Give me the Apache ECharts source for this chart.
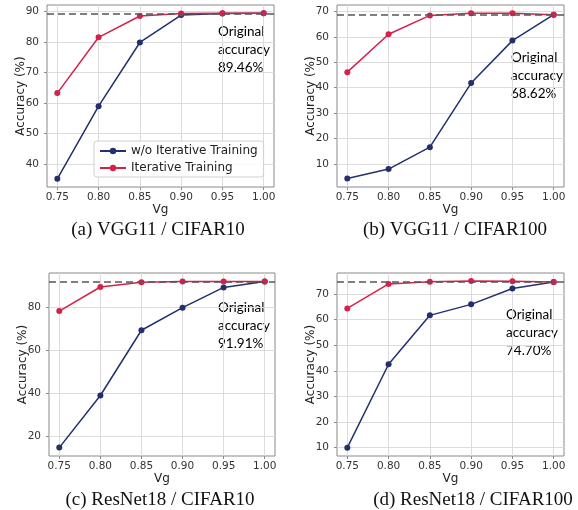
<!DOCTYPE html>
<html>
<head>
<meta charset="utf-8">
<script src="https://cdn.jsdelivr.net/npm/echarts@6/dist/echarts.min.js"></script>
<style>
  html, body { margin: 0; padding: 0; background: #fff; }
  #chart { width: 578px; height: 510px; }
</style>
</head>
<body>
<div id="chart"></div>
<script>
const vg = [0.75, 0.80, 0.85, 0.90, 0.95, 1.00];

// accuracy without / with iterative training, per panel
const vggC10NoIter = [35.2, 59.0, 79.9, 88.9, 89.4, 89.46];
const vggC10Iter = [63.3, 81.6, 88.6, 89.4, 89.5, 89.5];
const vggC100NoIter = [4.3, 8.0, 16.6, 41.8, 58.5, 68.7];
const vggC100Iter = [46.1, 61.0, 68.4, 69.3, 69.3, 68.7];
const resC10NoIter = [14.8, 39.0, 69.3, 79.8, 89.2, 91.9];
const resC10Iter = [78.2, 89.4, 91.6, 91.9, 92.0, 92.0];
const resC100NoIter = [10.0, 42.6, 61.7, 66.0, 72.2, 74.7];
const resC100Iter = [64.4, 74.0, 74.8, 75.1, 75.0, 74.7];

const originalAcc = [89.46, 68.62, 91.91, 74.70];
const captions = ['(a) VGG11 / CIFAR10', '(b) VGG11 / CIFAR100', '(c) ResNet18 / CIFAR10', '(d) ResNet18 / CIFAR100'];
const yTicks = [[40, 50, 60, 70, 80, 90], [10, 20, 30, 40, 50, 60, 70], [20, 40, 60, 80], [10, 20, 30, 40, 50, 60, 70]];
const yRanges = [[32.5, 92.2], [0.95, 72.5], [10.9, 95.9], [6.75, 78.25]];
const seriesNames = ['w/o Iterative Training', 'Iterative Training'];

const panels = [
  { noIter: vggC10NoIter, iter: vggC10Iter, grid: { left: 47, top: 5, width: 227, height: 182 }, note: [218, 32], cap: [158, 230] },
  { noIter: vggC100NoIter, iter: vggC100Iter, grid: { left: 337, top: 5, width: 227, height: 182 }, note: [511, 58], cap: [455, 230] },
  { noIter: resC10NoIter, iter: resC10Iter, grid: { left: 49, top: 273, width: 226, height: 183 }, note: [218, 308], cap: [160, 500] },
  { noIter: resC100NoIter, iter: resC100Iter, grid: { left: 337, top: 273, width: 227, height: 183 }, note: [506, 315], cap: [473, 500] }
];

const NAVY = '#23306e';
const RED = '#d6214b';
const tickFont = 'DejaVu Sans';

const grids = [], xAxes = [], yAxes = [], series = [], graphics = [];

panels.forEach((p, i) => {
  grids.push(Object.assign({ show: true, borderColor: '#8a8a8a', borderWidth: 1, backgroundColor: 'transparent' }, p.grid));

  xAxes.push({
    type: 'value', gridIndex: i, min: 0.7375, max: 1.0125,
    name: 'Vg', nameLocation: 'middle', nameGap: 17, nameMoveOverlap: false,
    nameTextStyle: { fontFamily: tickFont, fontSize: 12, color: '#222' },
    axisLine: { show: false },
    axisTick: { show: true, inside: false, length: 3, lineStyle: { color: '#8a8a8a' }, customValues: vg },
    axisLabel: { fontFamily: tickFont, fontSize: 10.5, color: '#333', margin: 5, customValues: vg, formatter: v => v.toFixed(2) },
    splitLine: { show: true, lineStyle: { color: '#dcdcdc', width: 1 } }
  });

  yAxes.push({
    type: 'value', gridIndex: i, min: yRanges[i][0], max: yRanges[i][1],
    name: 'Accuracy (%)', nameLocation: 'middle', nameGap: 20, nameRotate: 90, nameMoveOverlap: false,
    nameTextStyle: { fontFamily: tickFont, fontSize: 12, color: '#222' },
    axisLine: { show: false },
    axisTick: { show: true, inside: false, length: 3, lineStyle: { color: '#8a8a8a' }, customValues: yTicks[i] },
    axisLabel: { fontFamily: tickFont, fontSize: 10.5, color: '#333', margin: 8, customValues: yTicks[i] },
    splitLine: { show: true, lineStyle: { color: '#dcdcdc', width: 1 } }
  });

  series.push({
    name: seriesNames[0], type: 'line', xAxisIndex: i, yAxisIndex: i,
    data: vg.map((x, k) => [x, p.noIter[k]]),
    symbol: 'circle', symbolSize: 6, showSymbol: true,
    lineStyle: { color: NAVY, width: 1.5 }, itemStyle: { color: NAVY },
    z: 3
  });
  series.push({
    name: seriesNames[1], type: 'line', xAxisIndex: i, yAxisIndex: i,
    data: vg.map((x, k) => [x, p.iter[k]]),
    symbol: 'circle', symbolSize: 6, showSymbol: true,
    lineStyle: { color: RED, width: 1.5 }, itemStyle: { color: RED },
    z: 4,
    markLine: {
      silent: true, symbol: 'none', label: { show: false },
      lineStyle: { color: '#555', type: [7, 4], width: 1.5 },
      data: [{ yAxis: originalAcc[i] }],
      z: 5
    }
  });

  graphics.push({
    type: 'text', left: p.note[0], top: p.note[1] - 9,
    style: {
      text: 'Original\naccuracy\n' + originalAcc[i].toFixed(2) + '%',
      font: '13.5px Lato', fill: '#000', lineHeight: 18
    }
  });
  graphics.push({
    type: 'text', x: p.cap[0], y: p.cap[1],
    style: {
      text: captions[i], font: '19px "Liberation Serif"', fill: '#111',
      align: 'center', verticalAlign: 'middle'
    }
  });
});

const chart = echarts.init(document.getElementById('chart'), null, { renderer: 'canvas' });
chart.setOption({
  animation: false,
  backgroundColor: '#fff',
  grid: grids,
  xAxis: xAxes,
  yAxis: yAxes,
  series: series,
  legend: {
    data: seriesNames,
    orient: 'vertical',
    left: 94, top: 141,
    padding: [4, 6, 3, 5],
    itemWidth: 26, itemHeight: 8, itemGap: 5,
    backgroundColor: 'rgba(255,255,255,0.85)',
    borderColor: '#d0d0d0', borderWidth: 1, borderRadius: 3,
    textStyle: { fontFamily: tickFont, fontSize: 12, color: '#222' }
  },
  graphic: graphics
});
</script>
</body>
</html>
